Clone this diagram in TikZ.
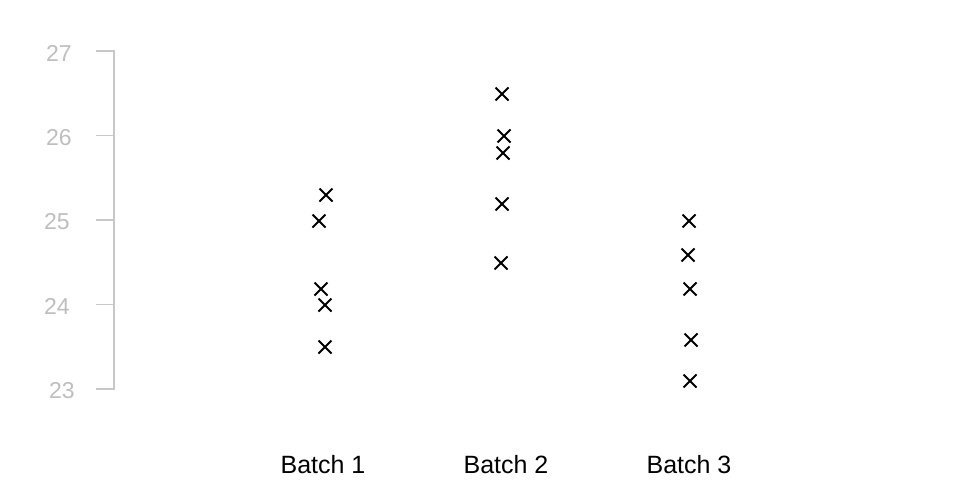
\documentclass[tikz,border=0pt]{standalone}
\usepackage{fontspec}
\setmainfont{Liberation Sans}
\usetikzlibrary{shapes.misc}
\definecolor{axisgray}{RGB}{200,200,200}
\definecolor{labelgray}{RGB}{190,190,190}
\tikzset{
  mark x/.style={cross out, draw=black, line width=2pt, minimum size=11pt, inner sep=0pt},
  ticklabel/.style={text=labelgray, font=\fontsize{23}{23}\selectfont, anchor=center},
  batchlabel/.style={text=black, font=\fontsize{25}{25}\selectfont, anchor=center},
  axisline/.style={draw=axisgray, line width=1.6pt}
}
\begin{document}
\begin{tikzpicture}[x=1pt,y=-1pt]
\useasboundingbox (0,0) rectangle (960,480);
% axis
\draw[axisline] (96,51) -- (114,51) -- (114,389) -- (96,389);
\foreach \yy in {135.5,220,304.5} \draw[axisline] (96,\yy) -- (114,\yy);
\node[ticklabel] (t27) at (59,53) {27};
\node[ticklabel] (t26) at (59,138) {26};
\node[ticklabel] (t25) at (57,222) {25};
\node[ticklabel] (t24) at (57,306) {24};
\node[ticklabel] (t23) at (62,391) {23};
% batch 1
\node[mark x] (a1) at (326,195) {};
\node[mark x] (a2) at (319,221) {};
\node[mark x] (a3) at (321,289) {};
\node[mark x] (a4) at (325,305) {};
\node[mark x] (a5) at (325,347) {};
% batch 2
\node[mark x] (b1) at (502,94) {};
\node[mark x] (b2) at (504,136) {};
\node[mark x] (b3) at (503,153) {};
\node[mark x] (b4) at (502,204) {};
\node[mark x] (b5) at (501,263) {};
% batch 3
\node[mark x] (c1) at (689,221) {};
\node[mark x] (c2) at (688,255) {};
\node[mark x] (c3) at (690,289) {};
\node[mark x] (c4) at (691,340) {};
\node[mark x] (c5) at (690,381) {};
% labels
\node[batchlabel] (l1) at (323,465) {Batch 1};
\node[batchlabel] (l2) at (506,465) {Batch 2};
\node[batchlabel] (l3) at (689,465) {Batch 3};
\end{tikzpicture}
\end{document}
